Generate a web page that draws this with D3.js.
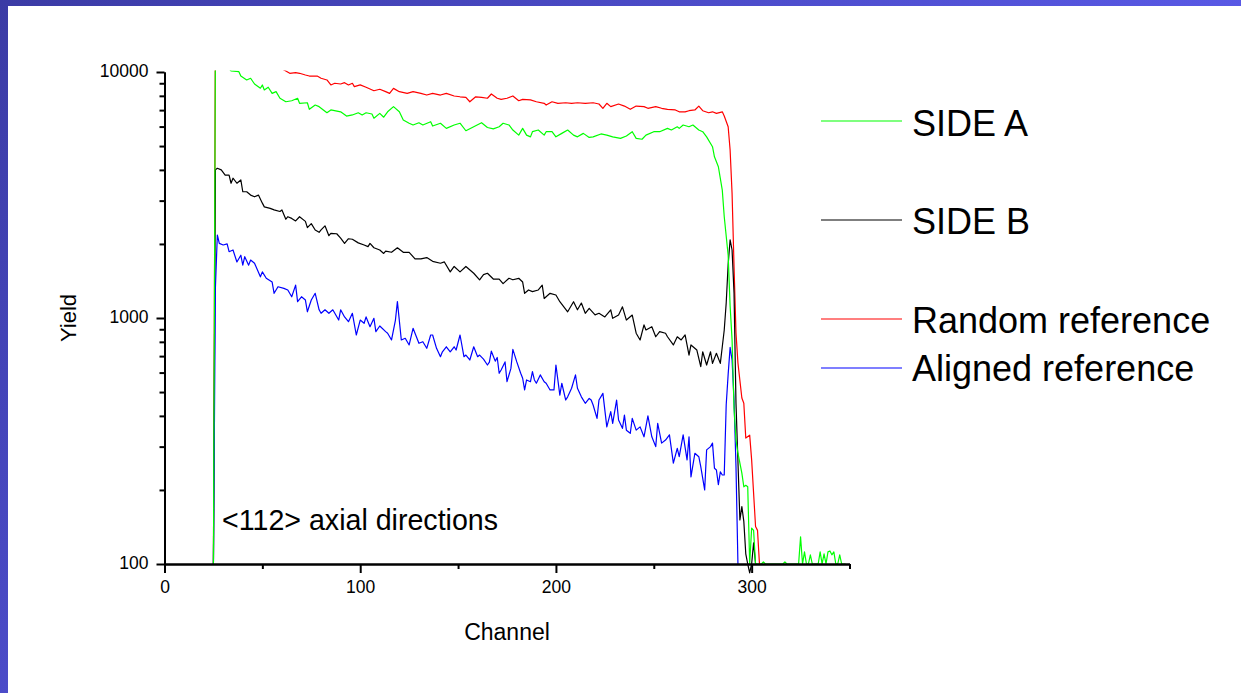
<!DOCTYPE html>
<html>
<head>
<meta charset="utf-8">
<script src="https://cdn.jsdelivr.net/npm/d3@7"></script>
<style>
  html, body { margin: 0; padding: 0; background: #ffffff; }
  svg { display: block; }
  text { font-family: "Liberation Sans", Arial, Helvetica, sans-serif; fill: #000; }
</style>
</head>
<body>
<svg id="chart" width="1241" height="693"></svg>
<script>
// Channel / yield pairs for each spectrum
const sideA = [[25,100],[26,12500],[30,11000],[34,10100],[38,10030],[39,9630],[42,9280],[44,9430],[46,8940],[49,8590],[50,8860],[51,8450],[53,8670],[55,8190],[57,8320],[59,7820],[62,7570],[65,7640],[68,7820],[69,7460],[73,7500],[74,7050],[77,7340],[79,7230],[83,6830],[85,7010],[90,6890],[93,6620],[96,6690],[99,6830],[101,6690],[103,6830],[106,6750],[107,6490],[110,6790],[112,6550],[114,6890],[117,7230],[120,6890],[122,6380],[125,6190],[127,6090],[130,6220],[132,6090],[136,6280],[137,6030],[141,6190],[144,5900],[148,6090],[151,6190],[154,5770],[158,5990],[162,6220],[165,5950],[168,5870],[171,5990],[173,6190],[176,6090],[178,5810],[181,5540],[183,5900],[185,5540],[187,5450],[188,5720],[191,5810],[194,5540],[195,5720],[198,5720],[200,5450],[203,5630],[206,5810],[209,5540],[211,5450],[214,5630],[217,5420],[219,5450],[223,5600],[226,5540],[229,5450],[233,5370],[236,5490],[239,5720],[241,5370],[244,5330],[246,5540],[250,5720],[253,5720],[257,5900],[259,5810],[262,5990],[263,5900],[265,6090],[268,5990],[270,6090],[273,5810],[275,5720],[277,5450],[280,4970],[281,4520],[283,4120],[285,3310],[286,2580],[288,1800],[289,1120],[290,815],[291,430],[292,319],[293,282],[295,234],[296,206],[297,209],[298,206],[299,100],[300,140],[301,137],[302,100],[305,100],[306,102],[307,100],[316,100],[317,102],[318,100],[324,100],[325,129],[326,100],[327,112],[328,100],[329,100],[330,109],[331,100],[334,100],[335,112],[336,100],[337,110],[338,100],[339,112],[340,113],[341,109],[342,112],[343,100],[344,100],[345,109],[346,100],[348,100]];

const sideB = [[25,100],[26,4000],[27,4060],[29,4000],[31,3810],[33,3810],[34,3530],[35,3700],[37,3530],[39,3640],[40,3260],[42,3260],[44,3160],[46,3110],[48,3160],[50,2930],[51,2830],[54,2790],[56,2750],[59,2710],[60,2750],[62,2520],[63,2580],[65,2540],[67,2480],[69,2580],[72,2470],[73,2330],[75,2420],[77,2280],[79,2230],[80,2280],[82,2370],[84,2160],[85,2210],[88,2200],[90,2110],[92,2010],[94,2100],[96,2090],[99,2020],[102,1980],[104,1950],[105,2010],[107,1930],[110,1890],[112,1830],[113,1870],[116,1850],[119,1930],[122,1850],[125,1850],[128,1740],[131,1740],[134,1760],[137,1700],[141,1670],[143,1690],[146,1540],[148,1620],[151,1540],[154,1620],[158,1520],[161,1430],[163,1500],[165,1520],[168,1440],[171,1440],[173,1380],[176,1450],[178,1430],[181,1450],[183,1400],[184,1260],[186,1300],[188,1280],[191,1300],[193,1360],[194,1200],[197,1260],[200,1240],[202,1165],[206,1060],[209,1165],[211,1080],[213,1150],[215,1045],[217,1095],[220,1030],[222,1045],[225,1010],[228,1080],[229,997],[232,1028],[234,1110],[236,981],[239,1028],[241,867],[243,814],[245,937],[246,894],[249,922],[251,839],[253,880],[256,867],[257,839],[260,777],[262,839],[264,814],[266,853],[268,707],[269,777],[272,741],[274,634],[275,729],[277,644],[279,729],[280,654],[282,719],[284,654],[285,764],[286,894],[287,1150],[288,1650],[289,2080],[290,1890],[291,1265],[292,450],[294,151],[295,171],[296,149],[297,110],[298,100],[299,92],[300,100],[301,122],[302,100]];

const randomRef = [[25,100],[26,14000],[35,12500],[45,11500],[55,10800],[62,10100],[64,9880],[67,9940],[69,9880],[72,9720],[74,9630],[78,9630],[80,9430],[83,9280],[85,8860],[87,9000],[90,8940],[92,9050],[94,8860],[96,9000],[97,8720],[100,8860],[103,8670],[107,8390],[110,8510],[113,8320],[115,8190],[117,8580],[120,8320],[124,8190],[127,8320],[131,8190],[134,8060],[137,8190],[141,8060],[144,8190],[148,7990],[151,7930],[154,7890],[156,7570],[159,7930],[162,7890],[165,7820],[167,8140],[170,7820],[172,7740],[175,7820],[178,7990],[181,7640],[183,7740],[187,7700],[190,7570],[194,7460],[195,7340],[198,7570],[201,7460],[205,7500],[208,7460],[211,7500],[215,7460],[219,7500],[222,7410],[224,7120],[226,7460],[228,7230],[232,7410],[235,7270],[238,7050],[241,7270],[245,7230],[247,7120],[251,7230],[254,7120],[257,7050],[261,7010],[263,6890],[266,6890],[268,6960],[271,7010],[273,7270],[275,6960],[278,6830],[280,6890],[282,6790],[285,6890],[286,6620],[288,5990],[289,4820],[290,3210],[291,1620],[292,870],[293,656],[295,473],[296,450],[297,325],[299,334],[300,265],[302,142],[303,137],[304,100]];

const alignedRef = [[25,100],[26,1320],[27,2175],[28,2010],[30,1980],[32,2000],[33,1860],[35,1890],[37,1690],[39,1800],[40,1640],[41,1775],[43,1640],[44,1720],[46,1670],[49,1470],[50,1540],[52,1450],[55,1400],[56,1260],[58,1340],[61,1320],[63,1300],[65,1220],[67,1360],[68,1165],[70,1220],[72,1183],[73,1060],[75,1183],[77,1260],[79,1080],[80,1045],[82,1080],[84,1045],[86,1080],[89,981],[90,1080],[92,1010],[94,966],[96,1045],[98,853],[100,981],[102,952],[103,1010],[105,922],[107,997],[108,880],[110,928],[113,880],[114,867],[116,814],[118,981],[119,1165],[121,814],[123,827],[125,777],[127,908],[130,789],[132,801],[134,753],[136,853],[137,853],[139,753],[141,696],[142,729],[144,764],[146,729],[148,764],[149,741],[151,853],[153,696],[154,707],[156,675],[158,764],[160,696],[161,707],[163,680],[165,644],[166,662],[167,733],[169,668],[170,691],[171,596],[172,615],[174,663],[175,551],[177,624],[178,746],[180,663],[182,596],[183,569],[184,510],[185,560],[187,551],[188,605],[189,560],[190,543],[192,587],[194,551],[195,543],[197,510],[199,510],[200,644],[202,486],[203,543],[205,464],[206,478],[208,518],[210,587],[211,518],[213,478],[215,450],[217,471],[218,464],[219,443],[221,391],[222,464],[224,494],[226,361],[228,416],[229,373],[231,464],[232,385],[234,356],[235,403],[236,350],[238,340],[239,391],[241,350],[243,361],[245,329],[247,400],[249,329],[251,300],[252,373],[254,310],[256,319],[258,335],[260,257],[262,295],[263,273],[265,335],[267,265],[268,329],[269,226],[271,282],[273,273],[274,249],[276,200],[277,291],[279,300],[280,310],[281,245],[282,241],[283,210],[284,237],[285,230],[286,230],[287,443],[288,590],[289,759],[290,675],[291,464],[292,249],[293,100]];

const seriesNames = ["SIDE A", "SIDE B", "Random reference", "Aligned reference"];
const seriesColors = ["#00ff00", "#000000", "#ff0000", "#0000ff"];
const seriesData = [sideA, sideB, randomRef, alignedRef];

const xMajorTicks = [0, 100, 200, 300];
const xMinorTicks = [50, 150, 250, 350];
const yMajorTicks = [100, 1000, 10000];
const yMinorTicks = [200, 300, 400, 500, 600, 700, 800, 900, 2000, 3000, 4000, 5000, 6000, 7000, 8000, 9000];

const svg = d3.select("#chart");
const W = 1241, H = 693;

// Slide frame: gradient bars along the top and left edges
const defs = svg.append("defs");
const grad = defs.append("linearGradient").attr("id", "frameGrad")
  .attr("gradientUnits", "userSpaceOnUse")
  .attr("x1", 0).attr("y1", 0).attr("x2", 700).attr("y2", 693);
grad.append("stop").attr("offset", "0%").attr("stop-color", "#3b3ba5");
grad.append("stop").attr("offset", "100%").attr("stop-color", "#5c5cec");
svg.append("rect").attr("x", 0).attr("y", 0).attr("width", W).attr("height", 6).attr("fill", "url(#frameGrad)");
svg.append("rect").attr("x", 0).attr("y", 0).attr("width", 8).attr("height", H).attr("fill", "url(#frameGrad)");

// Scales
const x = d3.scaleLinear().domain([0, 350]).range([164.5, 849.5]);
const y = d3.scaleLog().domain([100, 10000]).range([564, 72]);

defs.append("clipPath").attr("id", "plotClip")
  .append("rect").attr("x", x(0)).attr("y", 70.5).attr("width", x(350) - x(0)).attr("height", 512);

// Spectra
const line = d3.line().x(d => x(d[0])).y(d => y(d[1]));
const drawOrder = [2, 1, 3, 0];
const plot = svg.append("g").attr("clip-path", "url(#plotClip)");
drawOrder.forEach(i => {
  plot.append("path")
    .datum(seriesData[i])
    .attr("fill", "none")
    .attr("stroke", seriesColors[i])
    .attr("stroke-width", 1.2)
    .attr("stroke-linejoin", "round")
    .attr("d", line);
});

// Axes
function styleAxis(g) {
  g.selectAll("path.domain").attr("stroke", "#000").attr("stroke-width", 2);
  g.selectAll(".tick line").attr("stroke", "#000").attr("stroke-width", 2);
  g.selectAll(".tick text")
    .style("font-family", "'Liberation Sans', Arial, sans-serif")
    .style("font-size", "17.5px").attr("fill", "#000");
}

svg.append("g").attr("transform", `translate(0,${y(100)})`)
  .call(d3.axisBottom(x).tickValues(xMinorTicks).tickSize(5).tickSizeOuter(0).tickFormat(""))
  .call(styleAxis);
svg.append("g").attr("transform", `translate(0,${y(100)})`)
  .call(d3.axisBottom(x).tickValues(xMajorTicks).tickSize(9).tickSizeOuter(0).tickPadding(8).tickFormat(d3.format("d")))
  .call(styleAxis);

svg.append("g").attr("transform", `translate(${x(0)},0)`)
  .call(d3.axisLeft(y).tickValues(yMinorTicks).tickSize(5).tickSizeOuter(0).tickFormat(""))
  .call(styleAxis);
svg.append("g").attr("transform", `translate(${x(0)},0)`)
  .call(d3.axisLeft(y).tickValues(yMajorTicks).tickSize(8).tickSizeOuter(0).tickPadding(8).tickFormat(d3.format("d")))
  .call(styleAxis)
  .selectAll(".tick text").attr("dy", "0.28em");

// Axis titles
svg.append("text").attr("x", x(175)).attr("y", 640)
  .attr("text-anchor", "middle").style("font-size", "23px").text("Channel");
svg.append("text").attr("transform", `translate(76,${y(1000)}) rotate(-90)`)
  .attr("text-anchor", "middle").style("font-size", "22px").text("Yield");

// Annotation
svg.append("text").attr("x", 222).attr("y", 530)
  .style("font-size", "28.6px").text("<112> axial directions");

// Legend
const legendY = [121, 220, 319, 368];
const legendBase = [136, 234, 333, 381];
const legend = svg.append("g");
seriesNames.forEach((name, i) => {
  legend.append("line")
    .attr("x1", 821).attr("x2", 902)
    .attr("y1", legendY[i]).attr("y2", legendY[i])
    .attr("stroke", seriesColors[i]).attr("stroke-width", 1.2);
  legend.append("text").attr("x", 912).attr("y", legendBase[i])
    .style("font-size", "36px").text(name);
});
</script>
</body>
</html>
